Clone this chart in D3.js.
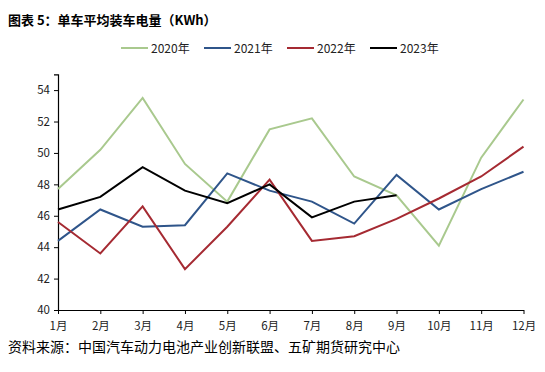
<!DOCTYPE html>
<html><head><meta charset="utf-8">
<script src="https://cdn.jsdelivr.net/npm/d3@7"></script>
<style>body{margin:0;background:#fff;}svg{display:block;}</style>
</head><body>
<svg id="c" width="545" height="372"></svg>
<script>
const months = ["1月","2月","3月","4月","5月","6月","7月","8月","9月","10月","11月","12月"];
const yTicks = [40,42,44,46,48,50,52,54];
const s2020 = [47.7,50.2,53.5,49.3,46.9,51.5,52.2,48.5,47.3,44.1,49.7,53.4];
const s2021 = [44.4,46.4,45.3,45.4,48.7,47.6,46.9,45.5,48.6,46.4,47.7,48.8];
const s2022 = [45.6,43.6,46.6,42.6,45.3,48.3,44.4,44.7,45.8,47.1,48.5,50.4];
const s2023 = [46.4,47.2,49.1,47.6,46.8,48.0,45.9,46.9,47.3];
const seriesNames = ["2020年","2021年","2022年","2023年"];
const colors = ["#a9c98e","#2f558a","#a52a32","#000000"];

const svg = d3.select("#c");
const font = "'Noto Sans CJK SC','Noto Sans',sans-serif";
const x = d3.scalePoint().domain(months).range([58,523.5]);
const y = d3.scaleLinear().domain([40,55]).range([310,74.4]);

// title
svg.append("text").attr("x",8).attr("y",25).attr("font-family",font)
  .attr("font-size",13).attr("font-weight","bold").attr("fill","#000")
  .text("图表 5：单车平均装车电量（KWh）");
// source
svg.append("text").attr("x",8).attr("y",352).attr("font-family",font)
  .attr("font-size",14).attr("fill","#000")
  .text("资料来源：中国汽车动力电池产业创新联盟、五矿期货研究中心");

// y axis
const ya = svg.append("g").attr("transform","translate(58,0)")
  .call(d3.axisLeft(y).tickValues(yTicks).tickSize(4).tickPadding(4).tickFormat(d3.format("d")));
ya.select(".domain").attr("stroke","#000").attr("stroke-width",1.2);
ya.selectAll("line").attr("stroke","#000");
ya.selectAll("text").attr("font-family",font).attr("font-size",11.5).attr("fill","#222");

// x axis
const xa = svg.append("g").attr("transform","translate(0,310)")
  .call(d3.axisBottom(x).tickSize(4).tickSizeOuter(0).tickPadding(8));
xa.select(".domain").attr("stroke","#000").attr("stroke-width",1.2);
xa.selectAll("line").attr("stroke","#000");
xa.selectAll("text").attr("font-family",font).attr("font-size",11.5).attr("fill","#222");

const line = d3.line().x((d,i)=>x(months[i])).y(d=>y(d));
[s2020,s2021,s2022,s2023].forEach((s,k)=>{
  svg.append("path").datum(s).attr("d",line).attr("fill","none")
    .attr("stroke",colors[k]).attr("stroke-width",2);
});

// legend
const legX = [121,204,287,370];
seriesNames.forEach((n,k)=>{
  svg.append("line").attr("x1",legX[k]).attr("x2",legX[k]+27).attr("y1",48).attr("y2",48)
    .attr("stroke",colors[k]).attr("stroke-width",2);
  svg.append("text").attr("x",legX[k]+30).attr("y",52.5).attr("font-family",font)
    .attr("font-size",12).attr("fill","#222").text(n);
});
</script>
</body></html>
